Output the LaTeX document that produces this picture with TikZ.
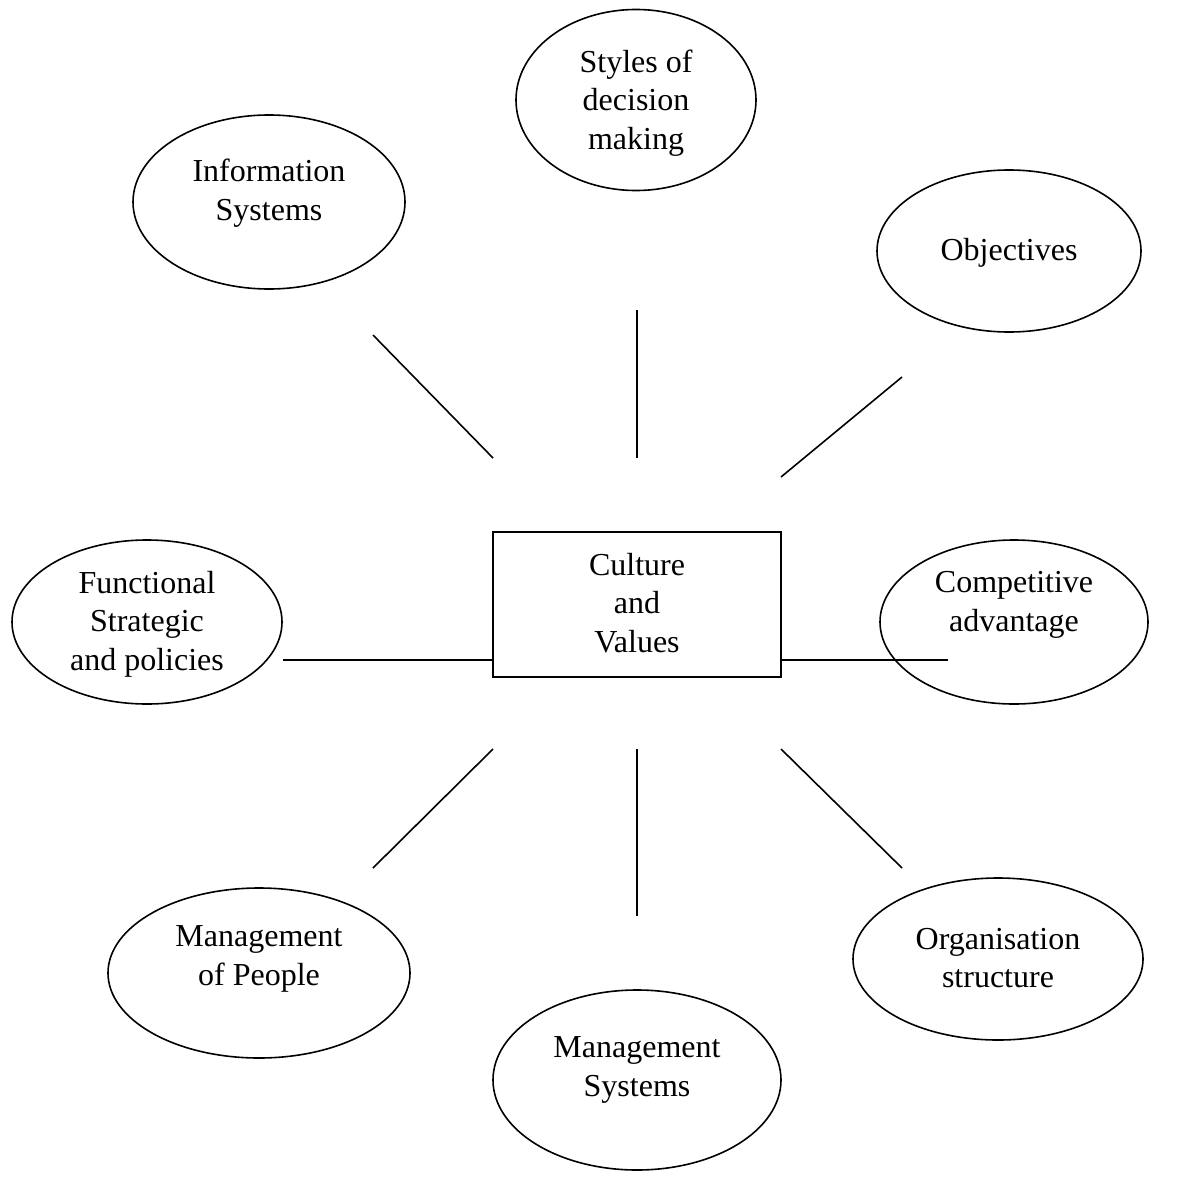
\documentclass[tikz,border=0pt]{standalone}
\usepackage{fontspec}
\setmainfont{Liberation Serif}
\usetikzlibrary{shapes.geometric}
\begin{document}
\begin{tikzpicture}[x=1pt,y=-1pt,
  every node/.style={font=\fontsize{32}{38.5}\selectfont},
  oval/.style={draw,line width=1.6pt,ellipse,inner sep=0pt},
  label/.style={align=center,inner sep=0pt},
  box/.style={draw,line width=1.6pt,rectangle,inner sep=0pt,minimum width=288pt,minimum height=145pt},
  link/.style={line width=1.6pt}]
\useasboundingbox (0,0) rectangle (1182,1180);

% centre box
\node[box] (core) at (637,604.5) {};
\node[label] (coretxt) at (637,603) {Culture\\and\\Values};

% surrounding ellipses
\node[oval,minimum width=240pt,minimum height=181pt] (styles) at (636,100) {};
\node[label] (stylestxt) at (636,103) {Styles of\\decision\\making};

\node[oval,minimum width=272pt,minimum height=174pt] (info) at (269,202) {};
\node[label] (infotxt) at (269,193) {Information\\Systems};

\node[oval,minimum width=264pt,minimum height=162pt] (obj) at (1009,251) {};
\node[label] (objtxt) at (1009,253) {Objectives};

\node[oval,minimum width=270pt,minimum height=164pt] (func) at (147,622) {};
\node[label] (functxt) at (147,624) {Functional\\Strategic\\and policies};

\node[oval,minimum width=268pt,minimum height=164pt] (comp) at (1014,622) {};
\node[label] (comptxt) at (1014,605) {Competitive\\advantage};

\node[oval,minimum width=302pt,minimum height=170pt] (people) at (259,973) {};
\node[label] (peopletxt) at (259,959) {Management\\of People};

\node[oval,minimum width=290pt,minimum height=162pt] (org) at (998,959) {};
\node[label] (orgtxt) at (998,958) {Organisation\\structure};

\node[oval,minimum width=288pt,minimum height=180pt] (msys) at (637,1080) {};
\node[label] (msystxt) at (637,1070) {Management\\Systems};

% free ends of the spokes
\coordinate (a1) at (373,335); \coordinate (a2) at (493,458);
\coordinate (b1) at (637,310); \coordinate (b2) at (637,458);
\coordinate (c1) at (902,377); \coordinate (c2) at (781,477);
\coordinate (d2) at (948,660);
\coordinate (e1) at (493,749); \coordinate (e2) at (373,868);
\coordinate (f1) at (637,749); \coordinate (f2) at (637,916);
\coordinate (g1) at (781,749); \coordinate (g2) at (902,868);

\draw[link] (a1) -- (a2);
\draw[link] (b1) -- (b2);
\draw[link] (c1) -- (c2);
\draw[link] (func.east |- 0,660) -- (core.west |- 0,660);
\draw[link] (core.east |- 0,660) -- (d2);
\draw[link] (e1) -- (e2);
\draw[link] (f1) -- (f2);
\draw[link] (g1) -- (g2);
\end{tikzpicture}
\end{document}
